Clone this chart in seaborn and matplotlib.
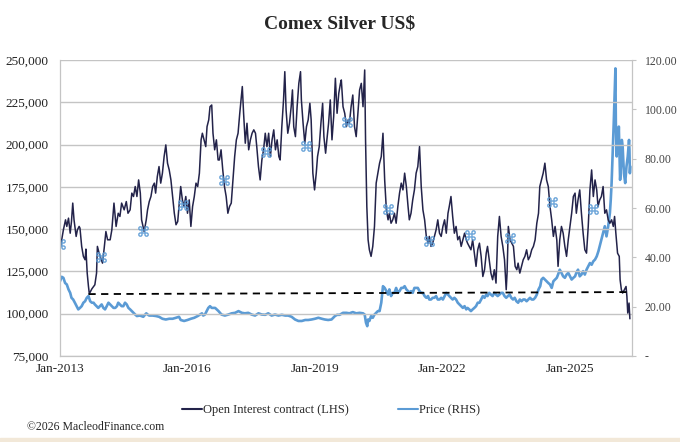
import matplotlib
matplotlib.use("Agg")
import matplotlib.pyplot as plt
import matplotlib.ticker as mticker
from matplotlib.lines import Line2D
from matplotlib.patches import Rectangle
import seaborn as sns

# Open interest (contracts, thousands), x = decimal year
oi_dates = [
    2013.00, 2013.08, 2013.13, 2013.16, 2013.20, 2013.24, 2013.27, 2013.30, 2013.33, 2013.38,
    2013.41, 2013.45, 2013.47, 2013.51, 2013.55, 2013.59, 2013.61, 2013.64, 2013.67, 2013.69,
    2013.75, 2013.82, 2013.86, 2013.88, 2013.92, 2013.96, 2014.00, 2014.04, 2014.08, 2014.12,
    2014.18, 2014.22, 2014.27, 2014.32, 2014.37, 2014.41, 2014.45, 2014.51, 2014.56, 2014.60,
    2014.65, 2014.69, 2014.73, 2014.77, 2014.81, 2014.85, 2014.89, 2014.92, 2014.98, 2015.03,
    2015.06, 2015.10, 2015.14, 2015.18, 2015.22, 2015.25, 2015.29, 2015.33, 2015.37, 2015.41,
    2015.45, 2015.49, 2015.53, 2015.57, 2015.61, 2015.65, 2015.69, 2015.73, 2015.77, 2015.80,
    2015.84, 2015.88, 2015.92, 2015.96, 2016.00, 2016.04, 2016.08, 2016.12, 2016.16, 2016.20,
    2016.24, 2016.28, 2016.30, 2016.32, 2016.35, 2016.39, 2016.43, 2016.46, 2016.50, 2016.53,
    2016.57, 2016.60, 2016.64, 2016.68, 2016.72, 2016.75, 2016.79, 2016.83, 2016.87, 2016.91,
    2016.95, 2016.99, 2017.03, 2017.07, 2017.11, 2017.15, 2017.19, 2017.23, 2017.26, 2017.29,
    2017.32, 2017.36, 2017.40, 2017.44, 2017.48, 2017.52, 2017.56, 2017.60, 2017.63, 2017.67,
    2017.71, 2017.75, 2017.79, 2017.83, 2017.87, 2017.91, 2017.95, 2017.99, 2018.03, 2018.07,
    2018.11, 2018.15, 2018.18, 2018.22, 2018.26, 2018.29, 2018.32, 2018.36, 2018.40, 2018.44,
    2018.47, 2018.50, 2018.54, 2018.58, 2018.62, 2018.66, 2018.68, 2018.72, 2018.76, 2018.80,
    2018.84, 2018.88, 2018.91, 2018.95, 2018.99, 2019.03, 2019.06, 2019.10, 2019.14, 2019.18,
    2019.21, 2019.25, 2019.28, 2019.32, 2019.36, 2019.40, 2019.44, 2019.48, 2019.52, 2019.56,
    2019.60, 2019.62, 2019.66, 2019.70, 2019.74, 2019.78, 2019.81, 2019.85, 2019.89, 2019.93,
    2019.97, 2020.01, 2020.05, 2020.09, 2020.13, 2020.17, 2020.19, 2020.22, 2020.25, 2020.28,
    2020.32, 2020.36, 2020.40, 2020.44, 2020.48, 2020.52, 2020.56, 2020.60, 2020.64, 2020.68,
    2020.72, 2020.75, 2020.79, 2020.83, 2020.87, 2020.91, 2020.95, 2020.99, 2021.03, 2021.07,
    2021.11, 2021.15, 2021.19, 2021.22, 2021.26, 2021.30, 2021.34, 2021.38, 2021.42, 2021.46,
    2021.50, 2021.54, 2021.58, 2021.62, 2021.66, 2021.69, 2021.73, 2021.77, 2021.81, 2021.85,
    2021.89, 2021.93, 2021.97, 2022.01, 2022.05, 2022.09, 2022.13, 2022.16, 2022.20, 2022.24,
    2022.28, 2022.32, 2022.36, 2022.40, 2022.44, 2022.48, 2022.52, 2022.56, 2022.59, 2022.63,
    2022.67, 2022.71, 2022.75, 2022.79, 2022.83, 2022.87, 2022.91, 2022.95, 2022.99, 2023.03,
    2023.06, 2023.10, 2023.14, 2023.18, 2023.22, 2023.26, 2023.30, 2023.34, 2023.38, 2023.42,
    2023.46, 2023.50, 2023.52, 2023.55, 2023.59, 2023.63, 2023.67, 2023.71, 2023.75, 2023.78,
    2023.82, 2023.86, 2023.90, 2023.94, 2023.98, 2024.02, 2024.06, 2024.10, 2024.14, 2024.18,
    2024.22, 2024.26, 2024.29, 2024.33, 2024.37, 2024.41, 2024.45, 2024.49, 2024.53, 2024.57,
    2024.61, 2024.65, 2024.69, 2024.72, 2024.76, 2024.80, 2024.84, 2024.88, 2024.92, 2024.96,
    2025.00, 2025.04, 2025.08, 2025.12, 2025.15, 2025.19, 2025.23, 2025.27, 2025.31, 2025.35,
    2025.39, 2025.43, 2025.47, 2025.51, 2025.55, 2025.59, 2025.63, 2025.66, 2025.70, 2025.74,
    2025.78, 2025.82, 2025.86, 2025.90, 2025.94, 2025.98, 2026.02, 2026.05, 2026.08, 2026.12,
    2026.16, 2026.18, 2026.21, 2026.24, 2026.28, 2026.32, 2026.34, 2026.36, 2026.39, 2026.41,
]
oi_k = [
    137.8, 149.6, 155.5, 151.6, 156.5, 147.6, 154.5, 165.4, 155.5, 145.7,
    149.6, 151.6, 150.6, 139.8, 133.9, 131.9, 138.2, 124.0, 116.1, 111.8,
    114.7, 117.1, 124.0, 139.8, 135.8, 132.9, 129.9, 138.8, 148.6, 143.7,
    143.7, 149.6, 165.4, 151.6, 159.4, 157.5, 165.4, 161.4, 166.3, 159.4,
    161.4, 171.3, 169.3, 175.2, 169.3, 179.1, 171.3, 155.5, 148.6, 155.5,
    161.4, 166.3, 169.3, 175.2, 177.2, 171.3, 181.1, 187.0, 177.2, 183.1,
    192.9, 199.8, 189.0, 185.0, 179.1, 169.3, 159.4, 152.6, 154.5, 163.4,
    175.2, 167.3, 163.4, 169.3, 159.4, 167.3, 151.6, 163.4, 169.3, 177.2,
    175.2, 183.1, 192.9, 202.8, 206.7, 202.8, 198.8, 210.6, 214.6, 222.4,
    223.4, 206.7, 196.9, 202.8, 190.9, 190.9, 196.9, 185.0, 175.2, 169.3,
    159.4, 163.4, 165.4, 179.1, 192.9, 202.8, 206.7, 218.5, 226.4, 234.3,
    218.5, 200.8, 212.6, 196.9, 202.8, 206.7, 208.7, 206.7, 198.8, 187.0,
    179.1, 190.9, 196.9, 206.7, 198.8, 206.7, 192.9, 202.8, 208.7, 196.9,
    202.8, 192.9, 190.9, 210.6, 226.4, 243.1, 220.5, 206.7, 212.6, 222.4,
    232.3, 210.6, 204.7, 222.4, 236.2, 243.1, 226.4, 212.6, 200.8, 210.6,
    214.6, 224.4, 214.6, 183.1, 173.2, 183.1, 192.9, 198.8, 212.6, 224.4,
    204.7, 194.9, 202.8, 212.6, 226.4, 202.8, 216.5, 239.2, 218.5, 230.3,
    236.2, 238.2, 222.4, 218.5, 210.6, 214.6, 212.6, 222.4, 229.3, 210.6,
    204.7, 218.5, 232.3, 236.2, 222.4, 244.1, 202.8, 163.4, 143.7, 137.8,
    133.9, 139.8, 151.6, 177.2, 183.1, 189.0, 192.9, 206.7, 179.1, 161.4,
    155.5, 159.4, 153.5, 155.5, 159.4, 153.5, 163.4, 171.3, 177.2, 173.2,
    183.1, 175.2, 163.4, 155.5, 159.4, 167.3, 173.2, 183.1, 187.0, 198.8,
    175.2, 161.4, 155.5, 145.7, 141.7, 145.7, 139.8, 141.7, 145.7, 149.6,
    155.5, 147.6, 145.7, 151.6, 155.5, 147.6, 159.4, 163.4, 169.3, 157.5,
    147.6, 151.6, 143.7, 145.7, 139.8, 143.7, 147.6, 143.7, 141.7, 139.8,
    137.8, 143.7, 135.8, 128.0, 137.8, 141.7, 133.9, 122.0, 126.0, 135.8,
    139.8, 131.9, 124.0, 120.1, 126.0, 118.1, 145.7, 157.5, 145.7, 139.8,
    131.9, 114.2, 124.0, 151.6, 143.7, 141.7, 139.8, 128.0, 126.0, 129.9,
    124.0, 128.0, 131.9, 133.9, 137.8, 131.9, 133.9, 137.8, 139.8, 143.7,
    153.5, 159.4, 175.2, 179.1, 183.1, 189.0, 179.1, 175.2, 163.4, 155.5,
    145.7, 151.6, 143.7, 128.0, 143.7, 151.6, 147.6, 139.8, 133.9, 143.7,
    151.6, 159.4, 169.3, 171.3, 159.4, 167.3, 173.2, 159.4, 147.6, 137.8,
    135.8, 151.6, 173.2, 185.0, 169.3, 179.1, 173.2, 163.4, 167.3, 169.3,
    175.2, 159.4, 161.4, 155.5, 153.5, 155.5, 151.6, 157.5, 147.6, 135.8,
    133.9, 120.1, 114.2, 112.2, 114.2, 116.1, 110.2, 100.4, 106.3, 97.0,
]

# Comex silver price, US$
price_dates = [
    2013.00, 2013.04, 2013.08, 2013.12, 2013.16, 2013.20, 2013.24, 2013.27, 2013.31, 2013.35,
    2013.39, 2013.43, 2013.47, 2013.51, 2013.55, 2013.59, 2013.63, 2013.67, 2013.71, 2013.75,
    2013.79, 2013.82, 2013.86, 2013.90, 2013.94, 2013.98, 2014.02, 2014.06, 2014.10, 2014.14,
    2014.18, 2014.22, 2014.26, 2014.30, 2014.34, 2014.37, 2014.41, 2014.45, 2014.49, 2014.53,
    2014.57, 2014.61, 2014.65, 2014.69, 2014.73, 2014.77, 2014.81, 2014.88, 2014.96, 2015.03,
    2015.07, 2015.10, 2015.18, 2015.26, 2015.33, 2015.41, 2015.49, 2015.57, 2015.65, 2015.73,
    2015.80, 2015.84, 2015.92, 2016.00, 2016.08, 2016.16, 2016.24, 2016.34, 2016.37, 2016.41,
    2016.49, 2016.53, 2016.57, 2016.65, 2016.73, 2016.80, 2016.88, 2016.96, 2017.04, 2017.12,
    2017.20, 2017.28, 2017.35, 2017.43, 2017.51, 2017.59, 2017.67, 2017.75, 2017.83, 2017.90,
    2017.98, 2018.06, 2018.14, 2018.22, 2018.30, 2018.37, 2018.45, 2018.53, 2018.61, 2018.69,
    2018.77, 2018.84, 2018.92, 2019.00, 2019.08, 2019.16, 2019.23, 2019.31, 2019.39, 2019.47,
    2019.52, 2019.58, 2019.66, 2019.74, 2019.81, 2019.89, 2019.97, 2020.05, 2020.13, 2020.17,
    2020.20, 2020.23, 2020.25, 2020.28, 2020.32, 2020.36, 2020.40, 2020.44, 2020.48, 2020.52,
    2020.56, 2020.60, 2020.64, 2020.68, 2020.72, 2020.75, 2020.79, 2020.83, 2020.87, 2020.91,
    2020.95, 2020.99, 2021.03, 2021.07, 2021.11, 2021.15, 2021.19, 2021.22, 2021.26, 2021.30,
    2021.34, 2021.38, 2021.42, 2021.46, 2021.50, 2021.54, 2021.58, 2021.62, 2021.66, 2021.69,
    2021.73, 2021.77, 2021.81, 2021.85, 2021.89, 2021.93, 2021.97, 2022.01, 2022.05, 2022.09,
    2022.13, 2022.16, 2022.20, 2022.24, 2022.28, 2022.32, 2022.36, 2022.40, 2022.44, 2022.48,
    2022.52, 2022.56, 2022.59, 2022.63, 2022.67, 2022.71, 2022.75, 2022.79, 2022.83, 2022.87,
    2022.91, 2022.95, 2022.99, 2023.03, 2023.06, 2023.10, 2023.14, 2023.18, 2023.22, 2023.26,
    2023.30, 2023.34, 2023.38, 2023.42, 2023.46, 2023.50, 2023.54, 2023.58, 2023.62, 2023.66,
    2023.70, 2023.74, 2023.78, 2023.82, 2023.86, 2023.90, 2023.94, 2023.98, 2024.02, 2024.06,
    2024.10, 2024.14, 2024.18, 2024.22, 2024.26, 2024.30, 2024.33, 2024.37, 2024.41, 2024.45,
    2024.49, 2024.53, 2024.57, 2024.61, 2024.65, 2024.69, 2024.72, 2024.76, 2024.80, 2024.84,
    2024.88, 2024.92, 2024.96, 2025.00, 2025.04, 2025.08, 2025.12, 2025.15, 2025.19, 2025.23,
    2025.27, 2025.31, 2025.35, 2025.39, 2025.43, 2025.47, 2025.51, 2025.55, 2025.59, 2025.63,
    2025.67, 2025.70, 2025.74, 2025.78, 2025.82, 2025.86, 2025.90, 2025.94, 2025.96, 2025.98,
    2026.00, 2026.03, 2026.07, 2026.08, 2026.10, 2026.12, 2026.13, 2026.15, 2026.18, 2026.21,
    2026.22, 2026.24, 2026.27, 2026.30, 2026.33, 2026.36, 2026.39, 2026.40, 2026.41, 2026.42,
]
price_usd = [
    30.3, 32.1, 31.7, 29.6, 29.0, 27.0, 25.6, 23.6, 22.9, 21.6,
    20.2, 18.9, 19.5, 20.2, 21.6, 22.2, 23.6, 24.3, 22.2, 21.6,
    21.6, 20.9, 20.2, 19.5, 20.2, 20.9, 19.5, 18.9, 20.2, 21.6,
    20.9, 20.2, 19.5, 19.5, 20.2, 21.6, 20.9, 20.2, 20.2, 21.6,
    20.9, 19.5, 18.9, 18.2, 17.5, 16.8, 16.2, 16.4, 15.9, 17.3,
    16.7, 16.4, 16.4, 16.2, 15.9, 15.1, 14.8, 15.1, 15.1, 15.5,
    15.9, 14.6, 14.2, 14.6, 15.1, 15.5, 16.2, 17.3, 16.4, 16.8,
    19.5, 20.2, 19.5, 19.5, 18.2, 16.8, 16.4, 16.8, 17.3, 17.5,
    18.2, 17.5, 17.3, 17.5, 16.8, 16.4, 17.3, 16.8, 16.7, 17.3,
    16.4, 16.8, 16.4, 16.7, 16.4, 16.4, 15.9, 14.8, 14.2, 14.2,
    14.6, 14.6, 14.8, 15.1, 15.5, 15.1, 14.8, 14.6, 14.8, 16.2,
    16.7, 16.7, 17.5, 17.5, 17.3, 17.8, 17.3, 17.5, 17.3, 16.8,
    13.5, 12.1, 14.8, 14.2, 16.2, 15.5, 16.8, 17.5, 18.2, 18.2,
    21.6, 28.3, 27.6, 26.3, 24.9, 27.0, 24.3, 25.6, 25.6, 27.6,
    25.6, 26.3, 27.6, 27.6, 28.3, 27.0, 26.3, 25.6, 26.3, 25.6,
    27.6, 27.6, 27.6, 26.3, 25.6, 25.6, 24.3, 23.6, 24.3, 22.9,
    22.9, 23.6, 23.6, 24.3, 22.9, 22.9, 23.6, 22.9, 24.3, 25.6,
    24.9, 24.3, 23.6, 22.9, 23.6, 22.9, 21.6, 20.9, 20.2, 19.5,
    20.2, 18.9, 19.5, 18.9, 18.2, 18.9, 19.5, 20.2, 21.6, 21.6,
    22.9, 24.3, 23.6, 24.9, 24.3, 25.6, 24.9, 24.3, 25.6, 24.9,
    24.3, 24.9, 25.6, 25.6, 24.3, 23.6, 24.3, 24.9, 23.6, 22.9,
    23.6, 22.2, 21.6, 22.9, 22.2, 22.9, 22.9, 22.2, 22.9, 23.6,
    22.9, 22.9, 23.6, 24.9, 27.0, 28.3, 31.0, 31.7, 31.0, 30.3,
    29.6, 29.0, 27.6, 30.3, 31.0, 31.7, 33.0, 35.0, 33.7, 32.3,
    31.7, 33.0, 33.7, 32.3, 31.0, 31.7, 32.3, 33.7, 35.0, 32.3,
    33.0, 34.4, 33.0, 35.0, 36.4, 37.7, 37.0, 38.4, 39.1, 40.4,
    42.5, 44.5, 47.2, 49.9, 52.6, 48.5, 52.6, 58.0, 63.3, 70.1,
    79.5, 94.3, 116.6, 94.3, 80.9, 90.3, 82.2, 93.0, 71.4, 79.5,
    87.6, 84.9, 74.1, 70.1, 76.8, 80.9, 87.6, 83.6, 74.1, 76.8,
]

# blue marker symbols sitting on the open interest line
mark_dates = [2013.00, 2013.96, 2014.95, 2015.90, 2016.86, 2017.85, 2018.80,
              2019.75, 2020.72, 2021.68, 2022.65, 2023.60, 2024.58, 2025.54]
mark_oi_k = [141.2, 133.5, 148.9, 164.3, 179.0, 195.6, 199.2,
             213.3, 161.9, 143.0, 146.5, 144.8, 166.0, 161.9]

# dashed support line on open interest
trend_dates = [2013.67, 2026.40]
trend_oi_k = [111.6, 112.8]

year_ticks = [2013, 2016, 2019, 2022, 2025]
year_labels = ["Jan-2013", "Jan-2016", "Jan-2019", "Jan-2022", "Jan-2025"]

oi = [v * 1000 for v in oi_k]
mark_oi = [v * 1000 for v in mark_oi_k]
trend_oi = [v * 1000 for v in trend_oi_k]

sns.set_style("white")
plt.rcParams["font.family"] = ["Liberation Serif", "DejaVu Serif"]

navy = "#23234a"
blue = "#5b9bd5"
grid_c = "#c4c4c4"

fig = plt.figure(figsize=(6.8, 4.42), dpi=100)
ax = fig.add_axes([60 / 680, 1 - 356 / 442, 572 / 680, 296 / 442])
ax2 = ax.twinx()

sns.lineplot(x=price_dates, y=price_usd, ax=ax2, color=blue, linewidth=1.9)
sns.lineplot(x=oi_dates, y=oi, ax=ax, color=navy, linewidth=1.1)
ax.plot(mark_dates, mark_oi, linestyle="none", marker="$\u2318$",
        markersize=7.5, color=blue, markeredgewidth=0.2)
sns.lineplot(x=trend_dates, y=trend_oi, ax=ax, color="black",
             linewidth=1.3, linestyle=(0, (4, 3)))

ax.set_zorder(ax2.get_zorder() + 1)
ax.patch.set_visible(False)

ax.set_xlim(2013.0, 2026.46)
ax.set_ylim(75000, 250000)
ax2.set_ylim(0, 120)
ax.set_yticks(range(75000, 250001, 25000))
ax.yaxis.set_major_formatter(mticker.FuncFormatter(lambda v, p: f"{v:,.0f}"))
ax2.set_yticks(range(0, 121, 20))
ax2.yaxis.set_major_formatter(
    mticker.FuncFormatter(lambda v, p: "-" if v == 0 else f"{v:.2f}"))
ax.set_xticks(year_ticks)
ax.set_xticklabels(year_labels)

ax.grid(axis="y", color=grid_c, linewidth=1)
ax.grid(axis="x", visible=False)
ax2.grid(False)
for a in (ax, ax2):
    for s in a.spines.values():
        s.set_color(grid_c)
    a.spines["top"].set_visible(False)
    a.set_xlabel("")
    a.set_ylabel("")

ax.tick_params(axis="y", length=0, pad=8, labelsize=9.5, colors="#222222")
ax.tick_params(axis="x", length=0, pad=5, labelsize=9.5, colors="#222222")
ax2.tick_params(axis="y", length=3, color=grid_c, pad=6, labelsize=8.5,
                colors="#444444")

fig.suptitle("Comex Silver US$", x=0.5, y=0.965, fontsize=14,
             fontweight="bold")

handles = [Line2D([], [], color=navy, linewidth=1.5),
           Line2D([], [], color=blue, linewidth=1.5)]
fig.legend(handles, ["Open Interest contract (LHS)", "Price (RHS)"],
           loc="center", bbox_to_anchor=(0.487, 1 - 410 / 442), ncol=2,
           frameon=False, fontsize=9, handlelength=1.6, handletextpad=0.1,
           columnspacing=3.9)
fig.text(27 / 680, 1 - 427 / 442, "\u00a92026 MacleodFinance.com",
         fontsize=8.5, va="center", ha="left")

fig.patches.append(Rectangle((0, 0), 1, 4 / 442, transform=fig.transFigure,
                             color="#f2e8d8", zorder=0))

fig.savefig("out.png", dpi=100)
